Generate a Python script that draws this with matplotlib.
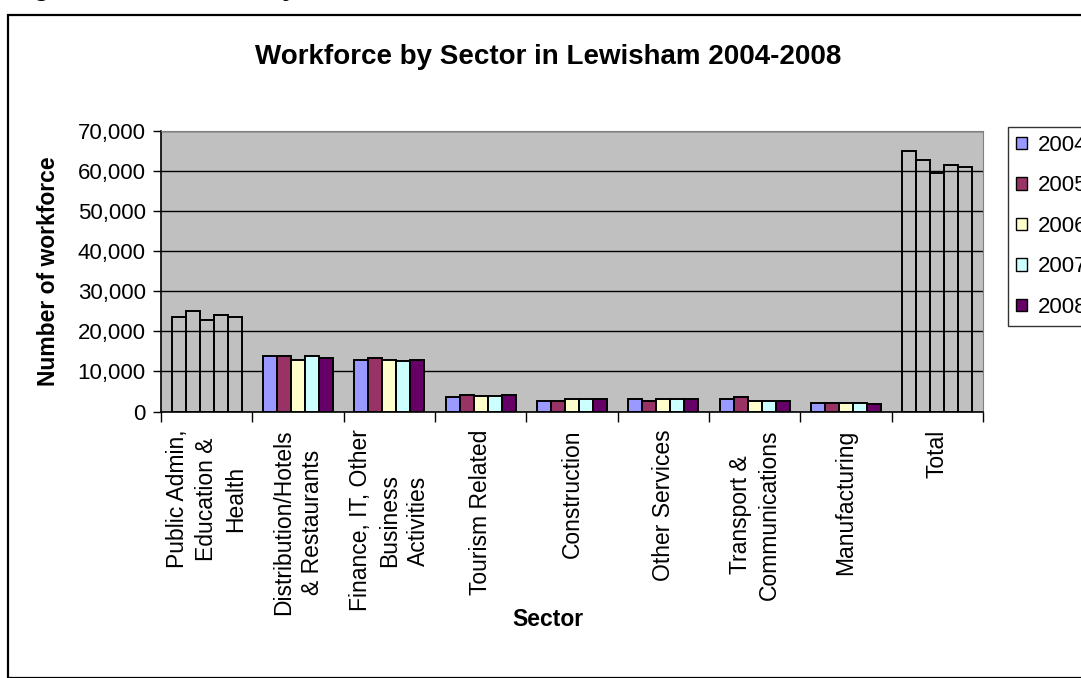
import numpy as np
import matplotlib.pyplot as plt
from matplotlib.patches import Patch, Rectangle
from matplotlib.ticker import FuncFormatter

plt.rcParams['font.family'] = ['Liberation Sans', 'DejaVu Sans']

# Workforce counts per sector, one list per year
sectors = ['Public Admin,\nEducation &\nHealth', 'Distribution/Hotels\n& Restaurants',
           'Finance, IT, Other\nBusiness\nActivities', 'Tourism Related', 'Construction',
           'Other Services', 'Transport &\nCommunications', 'Manufacturing', 'Total']
years = ['2004', '2005', '2006', '2007', '2008']
y2004 = [23700, 13900, 12900, 3500, 2500, 3000, 3000, 2200, 65000]
y2005 = [25100, 13900, 13400, 4000, 2500, 2500, 3500, 2200, 62700]
y2006 = [22800, 12900, 12900, 3900, 3000, 3000, 2500, 2200, 59600]
y2007 = [24100, 13900, 12500, 3900, 3000, 3000, 2500, 2200, 61500]
y2008 = [23700, 13400, 12900, 4000, 3000, 3000, 2500, 1800, 61100]
series = [y2004, y2005, y2006, y2007, y2008]
colors = ['#9999FF', '#993366', '#FFFFCC', '#CCFFFF', '#660066']
# these groups are drawn as outlines only
hollow = ['Public Admin,\nEducation &\nHealth', 'Total']

W, H = 1081, 678
fig = plt.figure(figsize=(W / 100, H / 100), dpi=100)

# chart border running off the page
fig.patches.append(Rectangle((8 / W, 0), 2, 1 - 14.5 / H, transform=fig.transFigure,
                             fill=False, edgecolor='black', linewidth=1.6))
fig.text(10 / W, 1 + 4 / H, 'Figure 4: Workforce by Sector in Lewisham',
         fontsize=19, fontweight='bold', va='baseline', ha='left')

ax = fig.add_axes([161 / W, 1 - 411.5 / H, 822 / W, 280.5 / H])
ax.set_facecolor('#C0C0C0')

x = np.arange(len(sectors))
w = 1 / 6.5
for i, (vals, c) in enumerate(zip(series, colors)):
    fc = ['none' if s in hollow else c for s in sectors]
    ax.bar(x + (i - 2) * w, vals, width=w, color=fc, edgecolor='black',
           linewidth=1.4, zorder=3)

ax.set_xlim(-0.5, len(sectors) - 0.5)
ax.set_ylim(0, 70000)
ax.set_yticks(range(0, 70001, 10000))
ax.yaxis.set_major_formatter(FuncFormatter(lambda v, p: f'{int(v):,}'))
ax.grid(axis='y', color='black', linewidth=1, zorder=1)
ax.tick_params(axis='y', length=6, width=1, pad=5, labelsize=16)

ax.set_xticks(x)
ax.set_xticklabels(sectors, rotation=90, ha='center', va='top',
                   multialignment='center', linespacing=1.35)
ax.set_xticks(np.arange(-0.5, len(sectors)), minor=True)
ax.tick_params(axis='x', which='major', length=0, pad=13, labelsize=16.5)
ax.tick_params(axis='x', which='minor', length=7, width=1)

for side in ['top', 'right']:
    ax.spines[side].set_color('#808080')
for side in ['left', 'bottom']:
    ax.spines[side].set_linewidth(1.2)

ax.set_title('Workforce by Sector in Lewisham 2004-2008', fontsize=20,
             fontweight='bold', pad=48, x=0.4708)
ax.set_ylabel('Number of workforce', fontsize=16.5, fontweight='bold')
ax.yaxis.set_label_coords(-0.123, 0.5)
ax.set_xlabel('Sector', fontsize=16.5, fontweight='bold')
ax.xaxis.set_label_coords(0.4708, -0.70)

handles = [Patch(facecolor=c, edgecolor='black', linewidth=1) for c in colors]
fig.legend(handles, years, loc='upper left', bbox_to_anchor=(1008 / W, 1 - 127 / H),
           fontsize=16, frameon=True, fancybox=False, edgecolor='black',
           handlelength=0.5, handleheight=0.5, handletextpad=0.5,
           labelspacing=0.88, borderaxespad=0, borderpad=0.35)
fig.legends[0].get_frame().set_linewidth(1)

fig.savefig('out.png', dpi=100)
